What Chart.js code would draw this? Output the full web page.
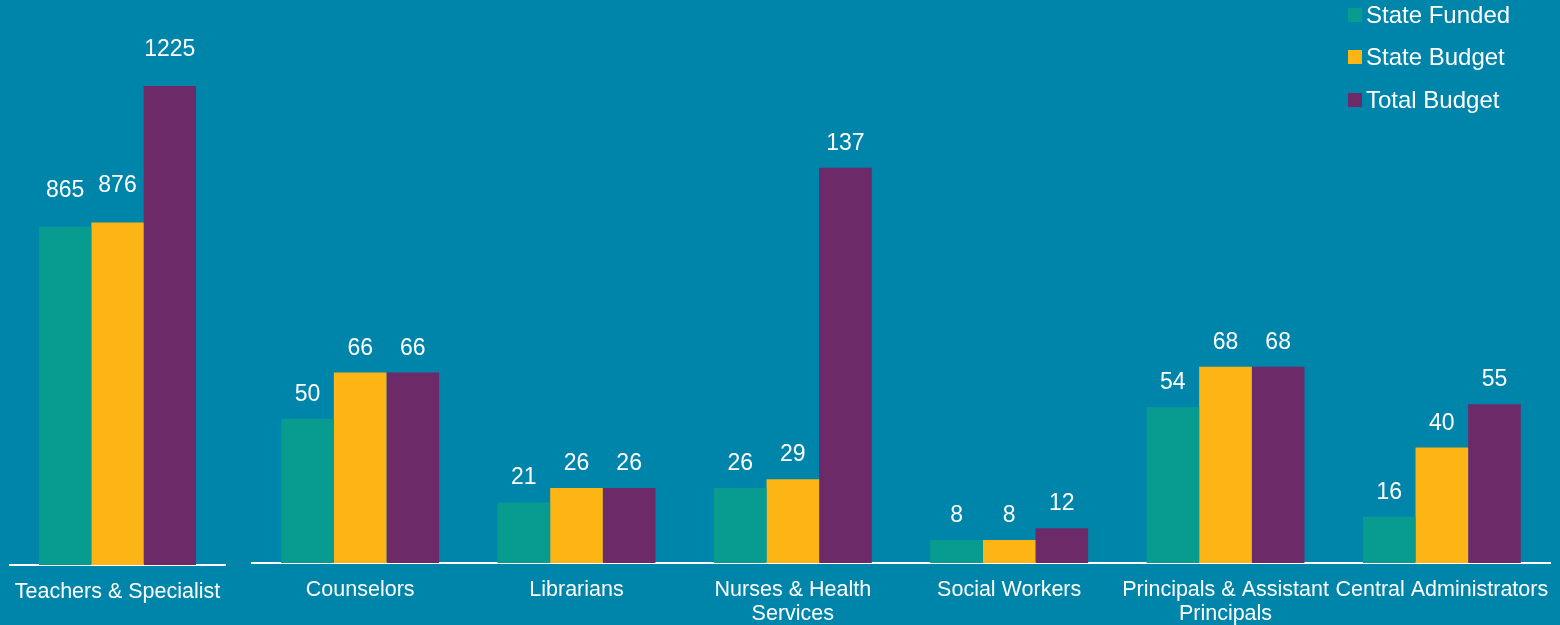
<!DOCTYPE html>
<html>
<head>
<meta charset="utf-8">
<script src="https://cdn.jsdelivr.net/npm/chart.js@4.4.1/dist/chart.umd.min.js"></script>
<style>
body{margin:0;background:#0085aa;width:1560px;height:625px;overflow:hidden;position:relative;font-family:"Liberation Sans",Arial,sans-serif;}
#c1{position:absolute;left:0;top:0;}
#c2{position:absolute;left:240px;top:0;}
#legend{position:absolute;left:1348px;top:0;color:#fff;font-size:24px;}
.item{position:absolute;left:0;height:30px;display:flex;align-items:center;white-space:nowrap;}
.box{width:14px;height:14px;margin-right:4px;}
</style>
</head>
<body>
<canvas id="c1" width="240" height="625"></canvas>
<canvas id="c2" width="1320" height="625"></canvas>
<div id="legend"></div>
<script>
// data
const categories = ["Teachers & Specialist","Counselors","Librarians",["Nurses & Health","Services"],"Social Workers",["Principals & Assistant","Principals"],"Central Administrators"];
const stateFunded = [865,50,21,26,8,54,16];
const stateBudget = [876,66,26,29,8,68,40];
const totalBudget = [1225,66,26,137,12,68,55];
const seriesNames = ["State Funded","State Budget","Total Budget"];
const colors = ["#079c8f","#fdb515","#6d2a69"];

// value labels on top of bars
const barLabels = {
id:"barLabels",
afterDatasetsDraw(chart,args,opts){
const ctx=chart.ctx;
ctx.save();
ctx.fillStyle="#fff";
ctx.font='23px "Liberation Sans", Arial, sans-serif';
ctx.textAlign="center";
ctx.textBaseline="alphabetic";
chart.data.datasets.forEach((ds,i)=>{
chart.getDatasetMeta(i).data.forEach((bar,j)=>{
ctx.fillText(ds.data[j],bar.x,bar.y-opts.gap);
});
});
ctx.restore();
}
};

function makeChart(id,cats,sf,sb,tb,yMax,gap,axisH,padL,padR){
return new Chart(document.getElementById(id),{
type:"bar",
data:{
labels:cats,
datasets:[
{label:seriesNames[0],data:sf,backgroundColor:colors[0]},
{label:seriesNames[1],data:sb,backgroundColor:colors[1]},
{label:seriesNames[2],data:tb,backgroundColor:colors[2]}
]
},
options:{
responsive:false,
animation:false,
layout:{padding:{left:padL,right:padR,top:0,bottom:0}},
datasets:{bar:{barPercentage:1,categoryPercentage:0.73}},
plugins:{legend:{display:false},tooltip:{enabled:false},barLabels:{gap:gap}},
scales:{
y:{display:false,min:0,max:yMax},
x:{
grid:{display:false},
border:{display:true,color:"#fff",width:2},
ticks:{color:"#fff",padding:7,maxRotation:0,autoSkip:false,font:{family:'"Liberation Sans", Arial, sans-serif',size:21.5,lineHeight:1.12}},
afterFit(s){s.height=axisH;}
}
}
},
plugins:[barLabels]
});
}

makeChart("c1",categories.slice(0,1),stateFunded.slice(0,1),stateBudget.slice(0,1),totalBudget.slice(0,1),1445,30,60,10,15);
makeChart("c2",categories.slice(1),stateFunded.slice(1),stateBudget.slice(1),totalBudget.slice(1),195.1,18,62,12,10);

// legend
const legend=document.getElementById("legend");
seriesNames.forEach((n,i)=>{
const d=document.createElement("div");
d.className="item";
d.style.top=(i*42.3)+"px";
d.innerHTML='<span class="box" style="background:'+colors[i]+'"></span><span>'+n+'</span>';
legend.appendChild(d);
});
</script>
</body>
</html>
